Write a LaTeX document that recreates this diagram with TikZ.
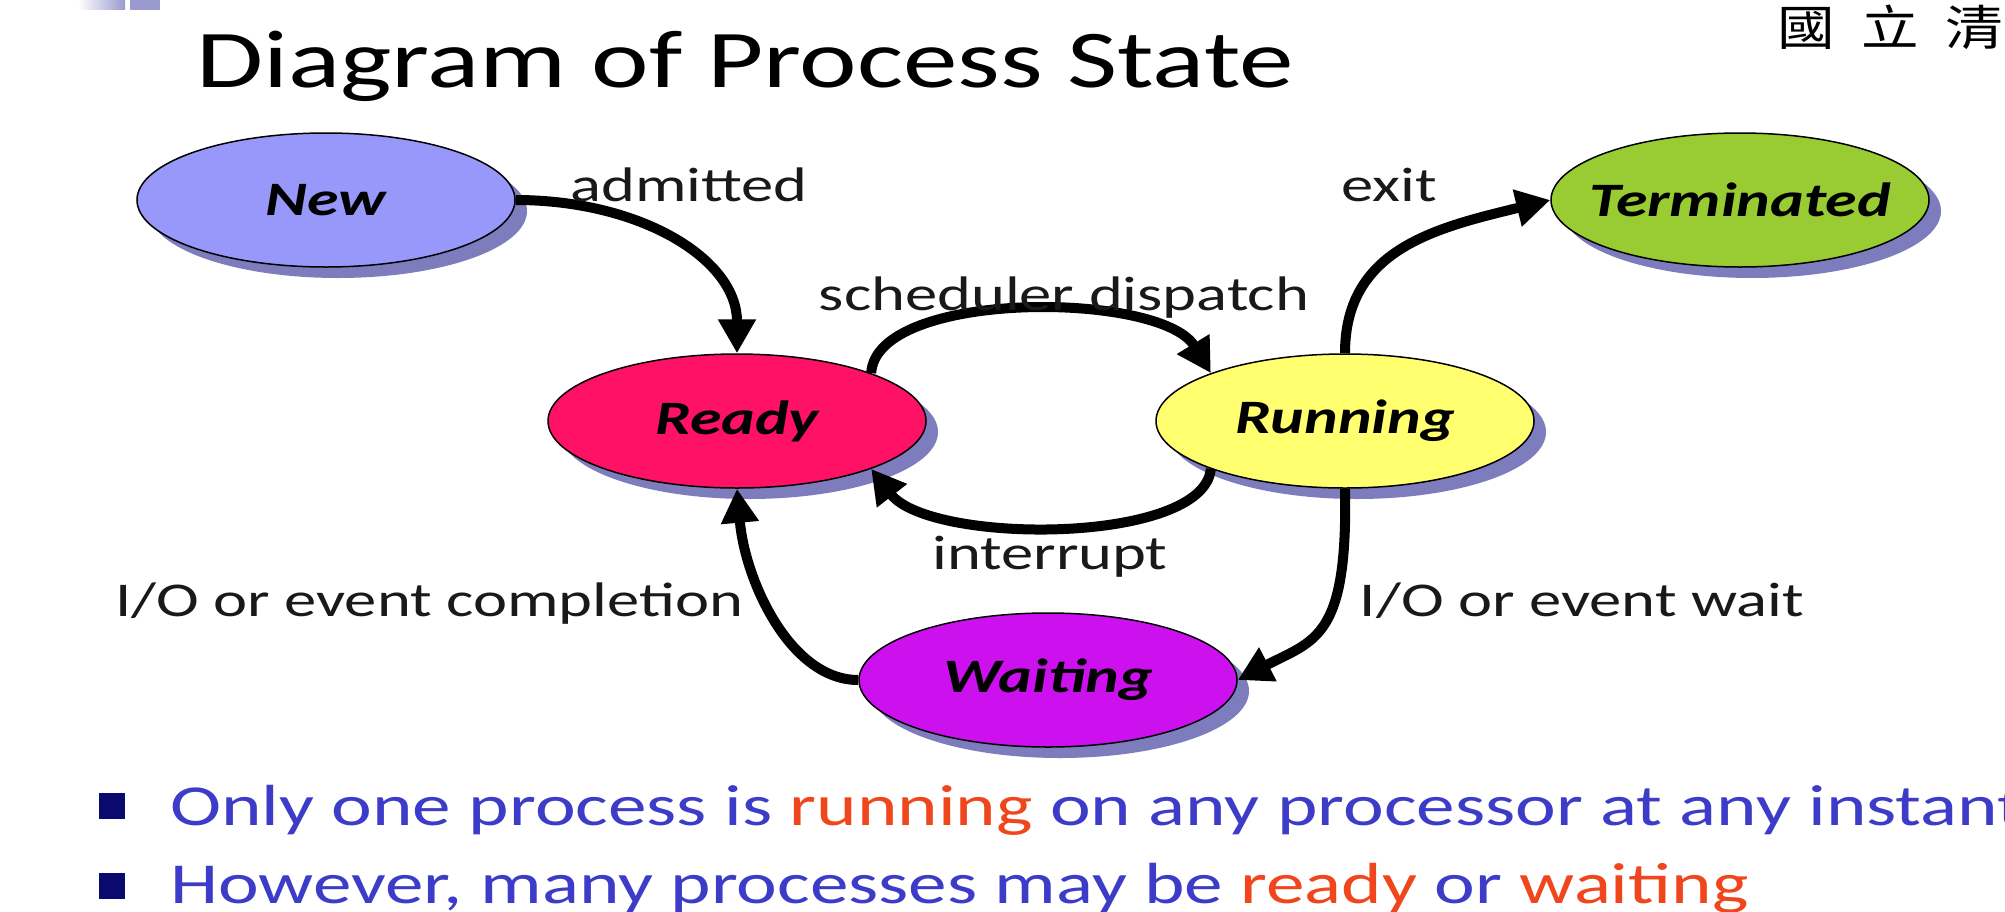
\documentclass[tikz,border=0pt]{standalone}
\usepackage{fontspec}
\setmainfont{Carlito}[FakeStretch=1.33]
\newfontfamily\cjkfont{Noto Sans CJK TC}[FakeStretch=1.2,LetterSpace=55]
\usetikzlibrary{arrows.meta,shadows,shapes.geometric}

\definecolor{newfill}{RGB}{152,152,250}
\definecolor{readyfill}{RGB}{255,17,102}
\definecolor{runfill}{RGB}{255,255,112}
\definecolor{termfill}{RGB}{153,204,51}
\definecolor{waitfill}{RGB}{204,17,238}
\definecolor{stateshade}{RGB}{125,125,190}
\definecolor{bodyblue}{RGB}{60,60,200}
\definecolor{hilite}{RGB}{240,70,30}
\definecolor{bulletsq}{RGB}{10,10,110}
\definecolor{deco}{RGB}{154,154,208}
\definecolor{labelgray}{RGB}{25,25,25}

\tikzset{
  state/.style={ellipse, draw=black, line width=1.5pt,
    minimum width=378pt, minimum height=134pt,
    inner xsep=-60pt, inner ysep=0pt,
    font=\fontsize{48}{50}\selectfont\bfseries\itshape,
    drop shadow={shadow xshift=12pt, shadow yshift=-11pt,
      fill=stateshade, opacity=1}},
  flow/.style={line width=10pt, draw=black,
    -{Triangle[length=34pt,width=36pt]}},
  lbl/.style={font=\fontsize{48.5}{50}\selectfont, text=labelgray,
    anchor=base, inner sep=0pt},
  bullettext/.style={font=\fontsize{58}{60}\selectfont, text=bodyblue,
    anchor=base west, inner sep=0pt},
  bulletmark/.style={rectangle, fill=bulletsq, minimum size=26pt,
    inner sep=0pt},
}

\begin{document}
\begin{tikzpicture}[x=1pt, y=-1pt]
  \useasboundingbox (0,0) rectangle (2005,911);
  \clip (0,0) rectangle (2005,911);
  \fill[white] (0,0) rectangle (2005,911);

  % slide corner ornament
  \shade[left color=white, right color=deco] (78,0) rectangle (125,9);
  \fill[deco] (130,0) rectangle (160,10);

  % heading and logo text
  \node[anchor=base, inner sep=0pt, font=\fontsize{82}{84}\selectfont]
    (title) at (745,87) {Diagram of Process State};
  \node[anchor=base west, inner sep=0pt, font=\cjkfont\fontsize{48}{50}\selectfont]
    (logo) at (1777,45) {國立清};

  % process states
  \node[state, fill=newfill]   (new)   at (326,200)  {New};
  \node[state, fill=readyfill] (ready) at (737,421)  {Ready};
  \node[state, fill=runfill]   (run)   at (1345,421) {Running};
  \node[state, fill=termfill]  (term)  at (1740,200) {Terminated};
  \node[state, fill=waitfill]  (wait)  at (1048,680) {Waiting};

  % transitions
  \draw[flow] (new.east) .. controls +(125,0) and +(0,-94) .. (ready.north);
  \draw[flow] (run.north) .. controls +(0,-104) and +(-115,28) .. (term.west);
  \draw[flow] (ready.north east) .. controls +(5,-84) and +(-50,-82) .. (run.north west);
  \draw[flow] (run.south west) .. controls +(-7,76) and +(59,76) .. (ready.south east);
  \draw[flow] (run.south) .. controls +(3,150) and +(77,-40) .. (wait.east);
  \draw[flow] (wait.west) .. controls +(-68,0) and +(8,92) .. (ready.south);

  % transition labels
  \node[lbl] (ladm)  at (689,201)  {admitted};
  \node[lbl] (lexit) at (1389,201) {exit};
  \node[lbl] (ldisp) at (1064,310) {scheduler dispatch};
  \node[lbl] (lint)  at (1050,569) {interrupt};
  \node[lbl] (lcomp) at (429,616)  {I/O or event completion};
  \node[lbl] (lwait) at (1582,616) {I/O or event wait};

  % bullet points
  \node[bulletmark] (m1) at (112,806) {};
  \node[bullettext] (b1) at (170,825)
    {Only one process is \textcolor{hilite}{running} on any processor at any instant};
  \node[bulletmark] (m2) at (112,886) {};
  \node[bullettext] (b2) at (170,903)
    {However, many processes may be \textcolor{hilite}{ready} or \textcolor{hilite}{waiting}};
\end{tikzpicture}
\end{document}
